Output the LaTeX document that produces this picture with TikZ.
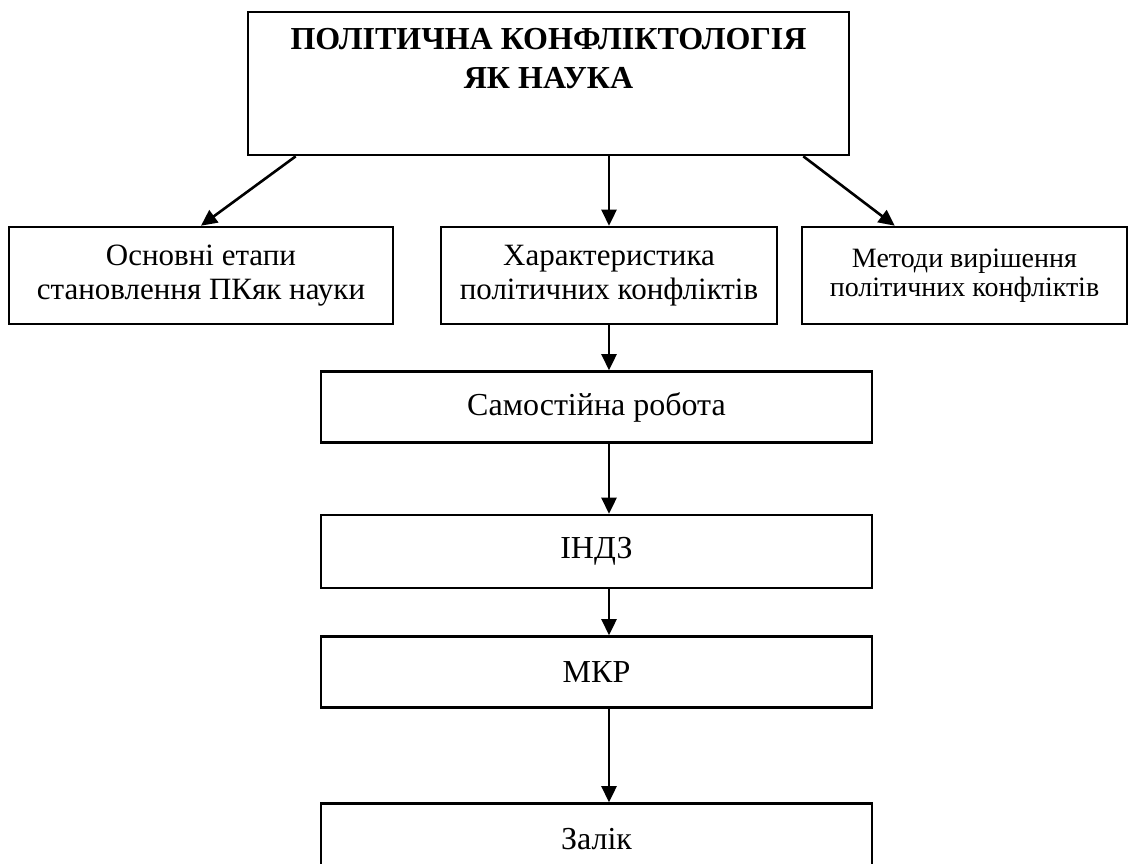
\documentclass[tikz,border=0pt]{standalone}
\usepackage{fontspec}
\setmainfont{Liberation Serif}
\usetikzlibrary{arrows.meta}

\begin{document}
\begin{tikzpicture}[%
    x=1pt, y=-1pt,
    box/.style={draw, line width=2.6pt, inner sep=0pt, align=center,
                font=\fontsize{31}{34}\selectfont},
    lower/.style={box, minimum width=551pt, minimum height=71pt,
                  font=\fontsize{32}{34}\selectfont},
    arr/.style={line width=2.6pt, -{Triangle[length=16pt,width=15pt]}}
  ]
    \useasboundingbox (0,0) rectangle (1129,863);

    \node[box, minimum width=601pt, minimum height=143pt] (top) at (548.5,83.5) {};
    \node[anchor=north, align=center, inner sep=0pt,
          font=\bfseries\fontsize{32}{39}\selectfont]
          (top-title) at ([yshift=-17pt]top.north) {ПОЛІТИЧНА КОНФЛІКТОЛОГІЯ\\ЯК НАУКА};

    \node[box, minimum width=384pt, minimum height=97pt] (stages)   at (201,275.5)   {Основні етапи\\становлення ПКяк науки};
    \node[box, minimum width=336pt, minimum height=97pt] (features) at (609,275.5)   {Характеристика\\політичних конфліктів};
    \node[box, minimum width=325pt, minimum height=97pt,
          font=\fontsize{28}{29}\selectfont]             (methods)  at (964.5,275.5) {Методи вирішення\\політичних конфліктів};

    \node[lower]                     (selfwork) at (596.5,407)   {Самостійна робота};
    \node[lower, minimum height=73pt] (indz)    at (596.5,551.5) {ІНДЗ};
    \node[lower]                     (mkr)      at (596.5,672)   {МКР};
    \node[lower]                     (zalik)    at (596.5,839)   {Залік};

    \draw[arr] ([xshift=49pt]top.south west)  -- (stages.north);
    \draw[arr] (top.south -| features.north)  -- (features.north);
    \draw[arr] ([xshift=-47pt]top.south east) -- ([xshift=94pt]methods.north west);
    \draw[arr] (features.south)               -- (features.south |- selfwork.north);

    \foreach \a/\b in {selfwork/indz, indz/mkr, mkr/zalik}
      {\draw[arr] (features.south |- \a.south) -- (features.south |- \b.north);};
\end{tikzpicture}
\end{document}
